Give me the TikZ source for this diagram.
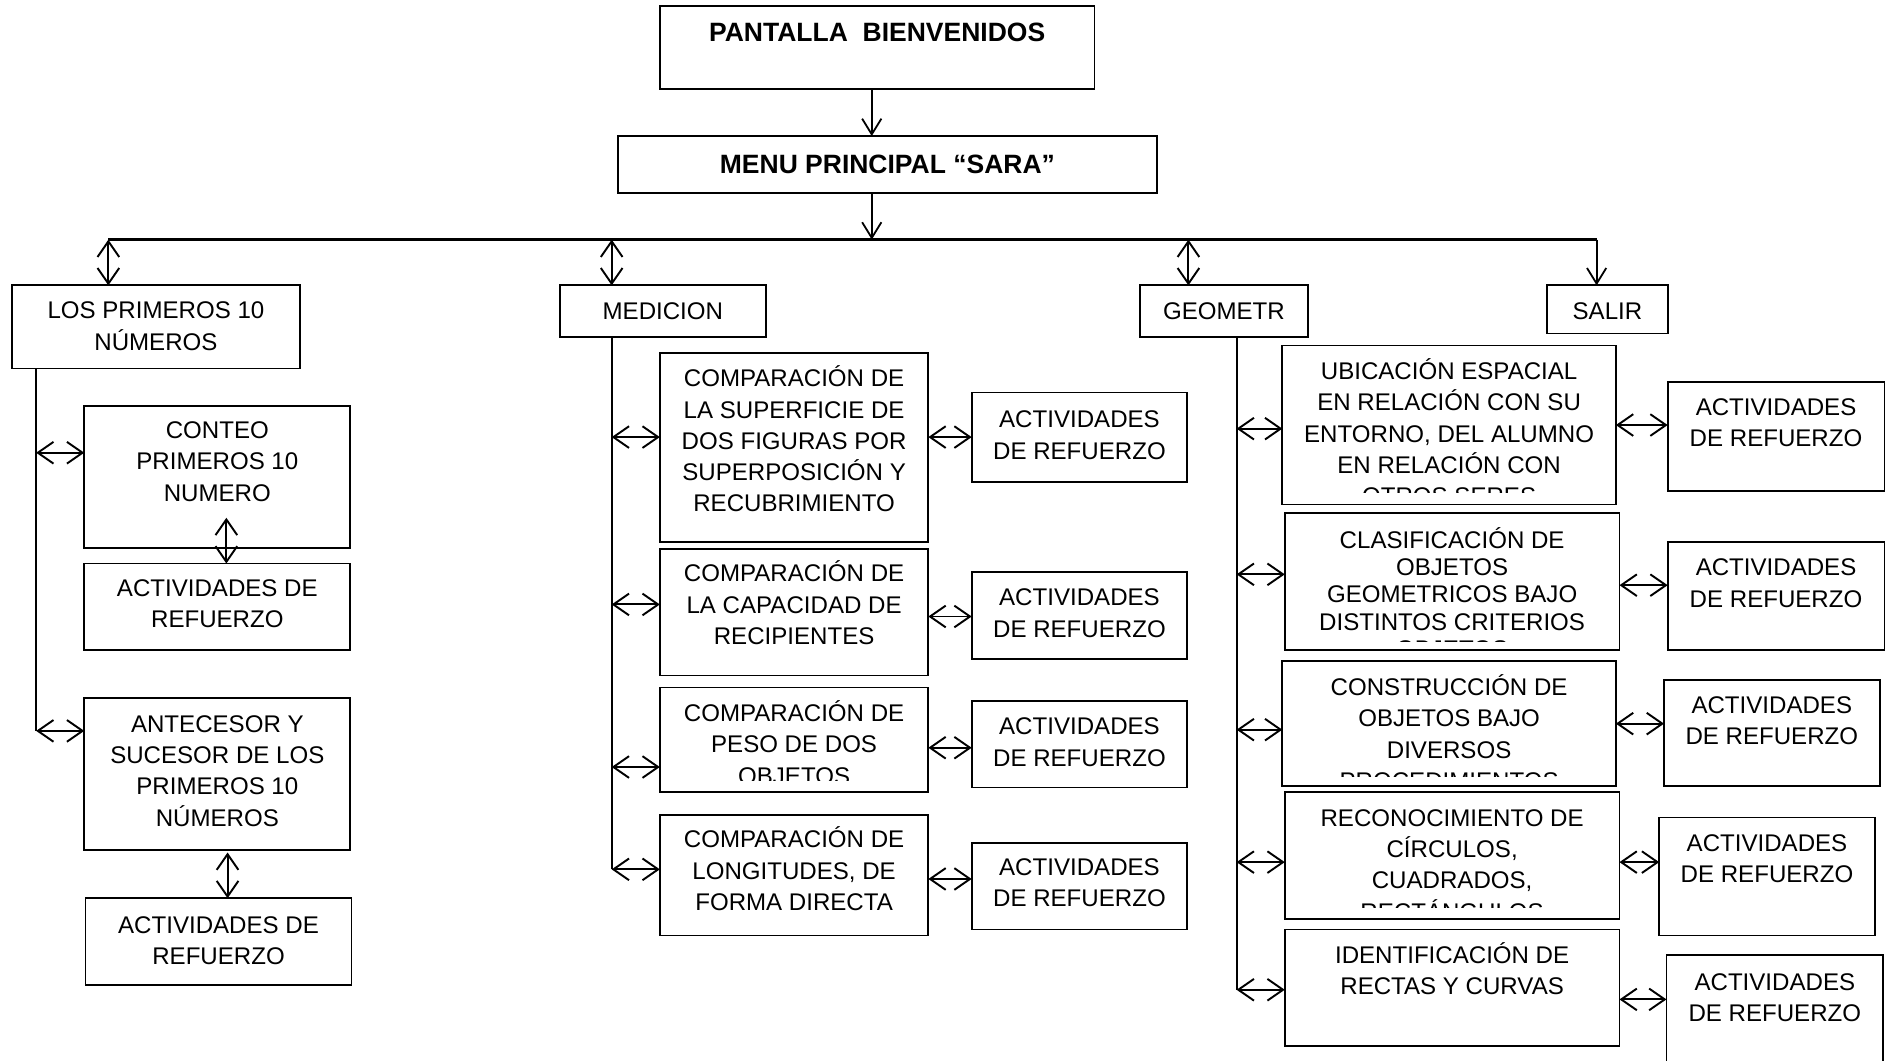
\documentclass[tikz,border=0pt]{standalone}
\usepackage{fontspec}
\setmainfont{Liberation Sans}
\usetikzlibrary{arrows.meta,calc}
\tikzset{
  box/.style={draw,line width=1.5pt,inner sep=0pt,outer sep=0pt,anchor=north west},
  txt/.style={inner sep=0pt,align=center,anchor=north,font=\fontsize{20}{26}\selectfont},
  ttl/.style={inner sep=0pt,align=center,anchor=north,font=\fontsize{22}{28}\selectfont\bfseries},
  dbl/.style={line width=1.6pt,{Straight Barb[length=13pt,width=18pt,line width=1.6pt]}-{Straight Barb[length=13pt,width=18pt,line width=1.6pt]}},
  sgl/.style={line width=1.5pt,-{Straight Barb[length=13pt,width=16pt,line width=1.5pt]}},
  ln/.style={line width=1.5pt}
}
\newcommand\mybox[5]{\node[box,minimum width={#4pt-#2pt},minimum height={#5pt-#3pt}] (#1) at (#2,#3) {};}
\begin{document}
\begin{tikzpicture}[x=1pt,y=-1pt]
\useasboundingbox (0,0) rectangle (1568,881);
% top
\mybox{pant}{548}{5}{909}{74}
\node[ttl] (pantt) at (728.5,13) {\rule{0pt}{21pt}PANTALLA\ \ BIENVENIDOS};
\mybox{menu}{513}{113}{961}{160}
\node[ttl] (menut) at (737,122.6) {\rule{0pt}{21pt}MENU PRINCIPAL “SARA”};
\draw[sgl] (pant.south -| 724,0) -- (menu.north -| 724,0);
\coordinate (barL) at (90,199);
\coordinate (barM) at (724,199);
\coordinate (barB) at (508,199);
\coordinate (barC) at (987,199);
\coordinate (barR) at (1326,199);
\draw[sgl] (menu.south -| barM) -- (barM);
\draw[line width=2.4pt] (barL) -- (barR);
% level 1
\mybox{los}{10}{237}{249}{306}
\node[txt] (lost) at (129.5,245.5) {\rule{0pt}{19pt}LOS PRIMEROS 10\\NÚMEROS};
\mybox{medi}{465}{237}{636}{280}
\node[txt] (medit) at (550.5,246) {\rule{0pt}{19pt}MEDICION};
\mybox{geo}{947}{237}{1086}{280}
\node[txt] (geot) at (1016.5,246) {\rule{0pt}{19pt}GEOMETR};
\mybox{salir}{1285}{237}{1385}{277}
\node[txt] (salirt) at (1335,246) {\rule{0pt}{19pt}SALIR};
\draw[dbl] (barL) -- (los.north -| barL);
\draw[dbl] (barB) -- (medi.north -| barB);
\draw[dbl] (barC) -- (geo.north -| barC);
\draw[sgl] (barR) -- (salir.north -| barR);
% left column
\coordinate (tA) at (30,607);
\draw[ln] (los.south -| tA) -- (tA);
\mybox{conteo}{70}{337}{291}{455}
\node[txt] (conteot) at (180.5,345) {\rule{0pt}{19pt}CONTEO\\PRIMEROS 10\\NUMERO};
\mybox{actA}{70}{468}{291}{540}
\node[txt] (actAt) at (180.5,476) {\rule{0pt}{19pt}ACTIVIDADES DE\\REFUERZO};
\mybox{ant}{70}{580}{291}{706}
\node[txt] (antt) at (180.5,589) {\rule{0pt}{19pt}ANTECESOR Y\\SUCESOR DE LOS\\PRIMEROS 10\\NÚMEROS};
\mybox{actB}{71}{746}{292}{818}
\node[txt] (actBt) at (181.5,756) {\rule{0pt}{19pt}ACTIVIDADES DE\\REFUERZO};
\draw[dbl] (tA |- 0,376) -- (conteo.west |- 0,376);
\draw[dbl] (tA) -- (ant.west |- tA);
\draw[dbl] ($(conteo.south -| 188,0)+(0,-25)$) -- (actA.north -| 188,0);
\draw[dbl] ($(ant.south -| 189,0)+(0,2)$) -- (actB.north -| 189,0);
% middle column
\coordinate (tB) at (508,722);
\draw[ln] (medi.south -| tB) -- (tB);
\mybox{m1}{548}{293}{771}{450}
\node[txt] (m1t) at (659.5,302) {\rule{0pt}{19pt}COMPARACIÓN DE\\LA SUPERFICIE DE\\DOS FIGURAS POR\\SUPERPOSICIÓN Y\\RECUBRIMIENTO};
\mybox{am1}{807}{326}{986}{400}
\node[txt] (am1t) at (896.5,336) {\rule{0pt}{19pt}ACTIVIDADES\\DE REFUERZO};
\mybox{m2}{548}{456}{771}{561}
\node[txt] (m2t) at (659.5,464) {\rule{0pt}{19pt}COMPARACIÓN DE\\LA CAPACIDAD DE\\RECIPIENTES};
\mybox{am2}{807}{475}{986}{547}
\node[txt] (am2t) at (896.5,484) {\rule{0pt}{19pt}ACTIVIDADES\\DE REFUERZO};
\mybox{m3}{548}{571}{771}{658}
\begin{scope}
\clip (548,571) rectangle (771,648);
\node[txt] (m3t) at (659.5,580) {\rule{0pt}{19pt}COMPARACIÓN DE\\PESO DE DOS\\OBJETOS};
\end{scope}
\mybox{am3}{807}{582}{986}{654}
\node[txt] (am3t) at (896.5,591) {\rule{0pt}{19pt}ACTIVIDADES\\DE REFUERZO};
\mybox{m4}{548}{677}{771}{777}
\node[txt] (m4t) at (659.5,685) {\rule{0pt}{19pt}COMPARACIÓN DE\\LONGITUDES, DE\\FORMA DIRECTA};
\mybox{am4}{807}{700}{986}{772}
\node[txt] (am4t) at (896.5,708) {\rule{0pt}{19pt}ACTIVIDADES\\DE REFUERZO};
\draw[dbl] (tB |- 0,363) -- (m1.west |- 0,363);
\draw[dbl] (tB |- 0,502) -- (m2.west |- 0,502);
\draw[dbl] (tB |- 0,637) -- (m3.west |- 0,637);
\draw[dbl] (tB) -- (m4.west |- tB);
\draw[dbl] (m1.east |- 0,363) -- (am1.west |- 0,363);
\draw[dbl] (m2.east |- 0,512) -- (am2.west |- 0,512);
\draw[dbl] (m3.east |- 0,621) -- (am3.west |- 0,621);
\draw[dbl] (m4.east |- 0,730) -- (am4.west |- 0,730);
% right column
\coordinate (tC) at (1027,822);
\draw[ln] (geo.south -| tC) -- (tC);
\mybox{g1}{1065}{287}{1342}{419}
\begin{scope}
\clip (1065,287) rectangle (1342,409);
\node[txt] (g1t) at (1203.5,296) {\rule{0pt}{19pt}UBICACIÓN ESPACIAL\\EN RELACIÓN CON SU\\ENTORNO, DEL ALUMNO\\EN RELACIÓN CON\\OTROS SERES};
\end{scope}
\mybox{ag1}{1385}{317}{1565}{408}
\node[txt] (ag1t) at (1475,326) {\rule{0pt}{19pt}ACTIVIDADES\\DE REFUERZO};
\mybox{g2}{1067}{426}{1345}{540}
\begin{scope}
\clip (1067,426) rectangle (1345,533);
\node[txt,font=\fontsize{20}{22.7}\selectfont] (g2t) at (1206,436) {\rule{0pt}{19pt}CLASIFICACIÓN DE\\OBJETOS\\GEOMETRICOS BAJO\\DISTINTOS CRITERIOS\\OBJETOS};
\end{scope}
\mybox{ag2}{1385}{450}{1565}{540}
\node[txt] (ag2t) at (1475,459) {\rule{0pt}{19pt}ACTIVIDADES\\DE REFUERZO};
\mybox{g3}{1065}{549}{1342}{653}
\begin{scope}
\clip (1065,549) rectangle (1342,645);
\node[txt] (g3t) at (1203.5,558.5) {\rule{0pt}{19pt}CONSTRUCCIÓN DE\\OBJETOS BAJO\\DIVERSOS\\PROCEDIMIENTOS};
\end{scope}
\mybox{ag3}{1382}{565}{1561}{653}
\node[txt] (ag3t) at (1471.5,573) {\rule{0pt}{19pt}ACTIVIDADES\\DE REFUERZO};
\mybox{g4}{1067}{658}{1345}{763}
\begin{scope}
\clip (1067,658) rectangle (1345,754);
\node[txt] (g4t) at (1206,667) {\rule{0pt}{19pt}RECONOCIMIENTO DE\\CÍRCULOS,\\CUADRADOS,\\RECTÁNGULOS};
\end{scope}
\mybox{ag4}{1378}{679}{1557}{777}
\node[txt] (ag4t) at (1467.5,688) {\rule{0pt}{19pt}ACTIVIDADES\\DE REFUERZO};
\mybox{g5}{1067}{772}{1345}{869}
\node[txt] (g5t) at (1206,781) {\rule{0pt}{19pt}IDENTIFICACIÓN DE\\RECTAS Y CURVAS};
\mybox{ag5}{1384}{793}{1564}{895}
\node[txt] (ag5t) at (1474,803) {\rule{0pt}{19pt}ACTIVIDADES\\DE REFUERZO};
\draw[dbl] (tC |- 0,356) -- (g1.west |- 0,356);
\draw[dbl] (tC |- 0,477) -- (g2.west |- 0,477);
\draw[dbl] (tC |- 0,606) -- (g3.west |- 0,606);
\draw[dbl] (tC |- 0,716) -- (g4.west |- 0,716);
\draw[dbl] (tC) -- (g5.west |- tC);
\draw[dbl] (g1.east |- 0,353) -- (ag1.west |- 0,353);
\draw[dbl] (g2.east |- 0,486) -- (ag2.west |- 0,486);
\draw[dbl] (g3.east |- 0,601) -- (ag3.west |- 0,601);
\draw[dbl] (g4.east |- 0,716) -- (ag4.west |- 0,716);
\draw[dbl] (g5.east |- 0,830) -- (ag5.west |- 0,830);
\end{tikzpicture}
\end{document}
